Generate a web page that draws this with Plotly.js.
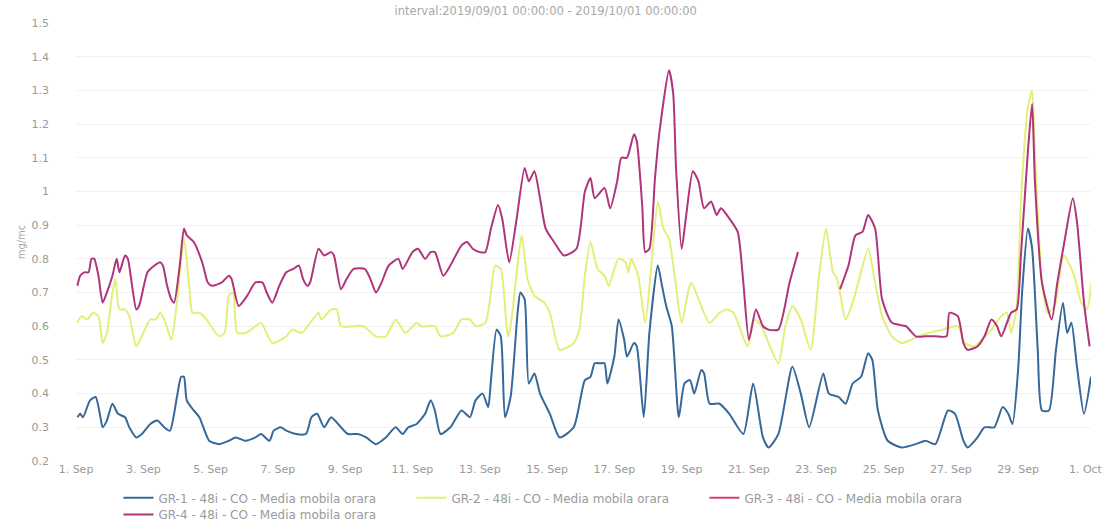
<!DOCTYPE html>
<html>
<head>
<meta charset="utf-8">
<script src="https://cdn.plot.ly/plotly-3.0.1.min.js"></script>
<style>html,body{margin:0;padding:0;background:#fff;}#chart{width:1107px;height:522px;}</style>
</head>
<body>
<div id="chart"></div>
<script>
// Hours since 2019-09-01 00:00 and CO values
var gr1Hours = [1,3,5,10,14,17,19,22,26,30,35,38,43,47,53,58,63,67,72,75,77,79,84,88,95,102,109,114,121,128,132,138,141,146,150,157,164,168,172,177,182,189,194,201,207,214,221,228,233,237,243,249,253,256,260,267,275,281,285,290,294,296,300,303,306,310,315,317,320,323,327,331,338,345,355,363,367,370,374,377,379,384,387,391,393,398,400,405,409,415,418,421,425,430,434,438,441,446,448,452,459,466,476,483,490,494,501,511,517,523,533,537,544,549,554,560,565,568,572,579,589,599,606,613,622,627,633,636,643,648,655,661,665,668,672,675,679,682,686,689,694,699,704,707,710,714,719,724];
var gr1Values = [0.33,0.34,0.33,0.38,0.39,0.34,0.30,0.32,0.37,0.34,0.33,0.30,0.27,0.28,0.31,0.32,0.30,0.29,0.39,0.45,0.45,0.38,0.35,0.33,0.26,0.25,0.26,0.27,0.26,0.27,0.28,0.26,0.29,0.30,0.29,0.28,0.28,0.33,0.34,0.30,0.33,0.30,0.28,0.28,0.27,0.25,0.27,0.30,0.28,0.30,0.31,0.34,0.38,0.35,0.28,0.30,0.35,0.33,0.38,0.40,0.36,0.44,0.59,0.57,0.33,0.39,0.64,0.70,0.68,0.43,0.46,0.40,0.34,0.27,0.30,0.44,0.45,0.49,0.49,0.49,0.43,0.51,0.62,0.56,0.51,0.55,0.54,0.33,0.58,0.78,0.72,0.66,0.60,0.33,0.43,0.44,0.40,0.47,0.46,0.37,0.37,0.34,0.28,0.43,0.27,0.24,0.28,0.48,0.40,0.30,0.46,0.40,0.39,0.37,0.43,0.45,0.52,0.50,0.35,0.26,0.24,0.25,0.26,0.25,0.35,0.34,0.26,0.24,0.27,0.30,0.30,0.36,0.34,0.31,0.47,0.71,0.89,0.83,0.53,0.35,0.35,0.53,0.67,0.58,0.61,0.48,0.34,0.45];

var gr2Hours = [1,4,8,12,16,19,22,26,28,31,35,38,43,48,53,57,60,63,68,72,77,81,83,88,93,102,106,109,112,115,121,128,132,140,150,154,161,167,173,175,182,186,189,198,205,214,221,228,235,243,246,251,256,260,269,275,281,285,292,295,299,303,308,310,316,318,322,327,334,338,345,355,359,363,367,372,377,380,384,387,392,394,396,401,406,411,415,419,423,427,432,437,439,445,452,459,464,469,474,479,484,489,494,501,506,511,517,524,530,535,538,540,543,549,554,558,565,570,575,582,589,596,601,608,618,629,634,641,646,653,660,664,667,671,674,679,682,684,689,693,698,703,705,709,712,717,721,725];
var gr2Values = [0.61,0.63,0.62,0.64,0.63,0.55,0.58,0.70,0.74,0.65,0.65,0.63,0.54,0.58,0.62,0.62,0.64,0.62,0.56,0.67,0.86,0.71,0.64,0.64,0.62,0.57,0.58,0.69,0.70,0.58,0.58,0.60,0.61,0.55,0.57,0.59,0.58,0.61,0.64,0.62,0.65,0.65,0.60,0.60,0.60,0.57,0.57,0.62,0.58,0.61,0.60,0.60,0.60,0.57,0.58,0.62,0.62,0.60,0.61,0.67,0.78,0.77,0.57,0.60,0.82,0.87,0.74,0.69,0.67,0.64,0.53,0.55,0.59,0.75,0.85,0.77,0.75,0.72,0.77,0.80,0.79,0.76,0.80,0.75,0.61,0.81,0.97,0.89,0.86,0.75,0.61,0.71,0.73,0.67,0.61,0.64,0.65,0.64,0.59,0.54,0.62,0.60,0.55,0.49,0.60,0.66,0.62,0.53,0.75,0.89,0.81,0.76,0.74,0.62,0.67,0.73,0.83,0.73,0.63,0.57,0.55,0.56,0.57,0.58,0.59,0.60,0.55,0.54,0.56,0.59,0.63,0.64,0.58,0.66,0.97,1.25,1.30,1.12,0.73,0.64,0.66,0.79,0.81,0.78,0.75,0.67,0.65,0.75];

var gr3Hours = [0];
var gr3Values = [null];

var gr4Hours = [1,3,6,9,11,13,16,19,22,26,29,31,35,37,40,43,45,51,56,60,62,65,68,70,74,77,79,84,90,94,97,104,109,111,116,122,128,133,136,140,145,150,155,159,162,165,167,173,177,182,184,189,193,198,206,210,214,218,223,230,233,240,244,249,253,256,262,267,275,279,283,288,292,296,301,304,309,314,320,323,327,331,335,341,348,357,363,367,370,377,381,386,389,393,398,400,404,406,409,413,416,423,426,428,432,435,440,444,448,453,457,460,466,472,476,480,485,490,494,501,509,515,530,545,551,556,561,565,570,575,582,592,599,606,613,621,623,629,633,636,643,648,653,657,660,667,671,674,679,682,684,689,696,700,705,711,714,719,723];
var gr4Values = [0.72,0.75,0.76,0.76,0.80,0.80,0.75,0.67,0.70,0.75,0.80,0.76,0.81,0.80,0.72,0.65,0.66,0.76,0.78,0.79,0.78,0.72,0.68,0.67,0.78,0.89,0.87,0.85,0.79,0.73,0.72,0.73,0.75,0.74,0.66,0.69,0.73,0.73,0.70,0.67,0.72,0.76,0.77,0.78,0.74,0.72,0.73,0.83,0.81,0.82,0.81,0.71,0.74,0.77,0.77,0.74,0.70,0.73,0.78,0.80,0.77,0.82,0.83,0.80,0.82,0.82,0.75,0.78,0.84,0.85,0.83,0.82,0.82,0.89,0.96,0.92,0.79,0.91,1.07,1.03,1.06,0.98,0.89,0.85,0.81,0.83,1.00,1.04,0.98,1.01,0.95,1.03,1.10,1.10,1.17,1.15,0.95,0.82,0.83,1.04,1.17,1.36,1.29,1.07,0.83,0.92,1.06,1.03,0.95,0.97,0.93,0.95,0.92,0.88,0.73,0.56,0.65,0.60,0.59,0.59,0.73,0.82,null,0.71,0.78,0.87,0.88,0.93,0.89,0.68,0.61,0.60,0.57,0.57,0.57,0.57,0.64,0.63,0.55,0.53,0.54,0.57,0.62,0.60,0.57,0.64,0.65,0.81,1.12,1.26,1.03,0.73,0.62,0.73,0.85,0.98,0.91,0.67,0.54];

// X-axis ticks (hours since start) and their labels
var tickHours = [0,48,96,144,192,240,288,336,384,432,480,528,576,624,672,720];
var tickLabels = ["1. Sep","3. Sep","5. Sep","7. Sep","9. Sep","11. Sep","13. Sep","15. Sep","17. Sep","19. Sep","21. Sep","23. Sep","25. Sep","27. Sep","29. Sep","1. Oct"];

var seriesNames = [
  "GR-1 - 48i - CO - Media mobila orara",
  "GR-2 - 48i - CO - Media mobila orara",
  "GR-3 - 48i - CO - Media mobila orara",
  "GR-4 - 48i - CO - Media mobila orara"
];
var seriesColors = ["#36689a", "#e4ef78", "#d9416f", "#b0347a"];
var seriesLegend = ["legend", "legend", "legend", "legend2"];
var titleText = "interval:2019/09/01 00:00:00 - 2019/10/01 00:00:00";
var yTitle = "mg/mc";

var START = Date.UTC(2019, 8, 1);
function toDate(h) {
  return new Date(START + h * 3600000).toISOString().slice(0, 16).replace('T', ' ');
}

var hoursList = [gr1Hours, gr2Hours, gr3Hours, gr4Hours];
var valuesList = [gr1Values, gr2Values, gr3Values, gr4Values];

var traces = seriesNames.map(function (name, i) {
  return {
    type: 'scatter',
    mode: 'lines',
    name: name,
    legend: seriesLegend[i],
    x: hoursList[i].map(toDate),
    y: valuesList[i],
    connectgaps: false,
    line: {color: seriesColors[i], width: 2, shape: 'spline', smoothing: 0.6},
    hoverinfo: 'x+y'
  };
});

var FONT = 'DejaVu Sans, Arial, sans-serif';
var legendCommon = {
  orientation: 'h',
  xref: 'container', x: 0.107, xanchor: 'left',
  yref: 'container', yanchor: 'top',
  font: {family: FONT, size: 12, color: '#9a9a9a'},
  bgcolor: 'rgba(0,0,0,0)',
  traceorder: 'normal',
  entrywidth: 248,
  entrywidthmode: 'pixels',
  itemwidth: 30,
  tracegroupgap: 0
};

var layout = {
  width: 1107,
  height: 522,
  margin: {l: 76, r: 16, t: 23, b: 61},
  paper_bgcolor: '#ffffff',
  plot_bgcolor: '#ffffff',
  font: {family: FONT, size: 11, color: '#9a9a9a'},
  title: {
    text: titleText,
    font: {family: FONT, size: 11.5, color: '#a8a8a8'},
    x: 0.493, xanchor: 'center', y: 0.987, yanchor: 'top'
  },
  xaxis: {
    type: 'date',
    range: [toDate(0), toDate(724)],
    tickmode: 'array',
    tickvals: tickHours.map(toDate),
    ticktext: tickLabels,
    showgrid: false,
    zeroline: false,
    showline: false,
    ticks: '',
    tickfont: {family: FONT, size: 11, color: '#9a9a9a'}
  },
  yaxis: {
    range: [0.2, 1.5],
    dtick: 0.1,
    tick0: 0.2,
    showgrid: true,
    gridcolor: '#f2f2f2',
    gridwidth: 1,
    zeroline: false,
    showline: false,
    ticks: '',
    ticklabelstandoff: 26,
    tickfont: {family: FONT, size: 11, color: '#9a9a9a'},
    title: {text: yTitle, font: {family: FONT, size: 10, color: '#a8a8a8'}, standoff: 4}
  },
  showlegend: true,
  legend: Object.assign({}, legendCommon, {y: 0.074}),
  legend2: Object.assign({}, legendCommon, {y: 0.042})
};

Plotly.newPlot('chart', traces, layout, {displayModeBar: false, staticPlot: true});
</script>
</body>
</html>
